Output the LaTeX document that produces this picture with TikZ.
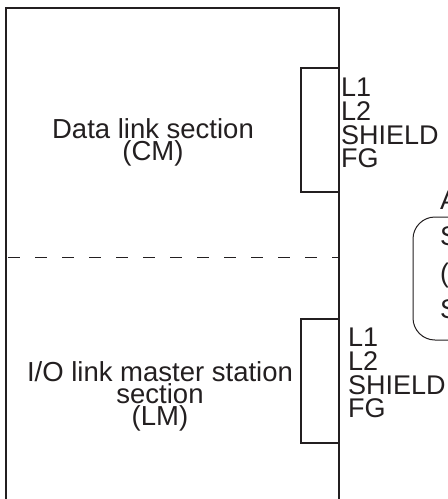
\documentclass[tikz,border=0pt]{standalone}
\usepackage{fontspec}
\setmainfont{Liberation Sans}
\definecolor{inkc}{HTML}{231F20}
\begin{document}
\begin{tikzpicture}[x=1pt,y=-1pt,
  frame/.style={draw=inkc, line width=1.8pt},
  conbox/.style={draw=inkc, line width=1.8pt, inner sep=0pt, minimum width=38pt, minimum height=124pt},
  lbl/.style={font=\fontsize{27}{23.7}\selectfont, text=inkc, inner sep=0pt, align=left},
  sect/.style={font=\fontsize{27.5}{22}\selectfont, text=inkc, inner sep=0pt, align=center},
  side/.style={font=\fontsize{27}{27}\selectfont, text=inkc, inner sep=0pt, anchor=base west}]
\useasboundingbox (0,0) rectangle (448,499);
\clip (0,0) rectangle (448,499);
% main frame
\coordinate (bl) at (6,515);
\coordinate (tl) at (6,8);
\coordinate (tr) at (339,8);
\coordinate (br) at (339,515);
\draw[frame] (bl) -- (tl) -- (tr) -- (br);
% dashed divider
\coordinate (dl) at (8,257);
\coordinate (dr) at (339,257);
\draw[draw=inkc, line width=0.8pt, dash pattern=on 12pt off 15pt] (dl) -- (dr);
% connector boxes
\node[conbox] (cn1) at (320,130) {};
\node[conbox] (cn2) at (320,381) {};
% section texts
\node[sect] (cm) at (153,142.5) {Data link section\\(CM)};
\node[sect] (lm) at (160,396) {I/O link master station\\section\\(LM)};
% terminal labels
\node[lbl, anchor=north west] (t1) at (341,78) {L1\\L2\\SHIELD\\FG};
\node[lbl, anchor=north west] (t2) at (348,328) {L1\\L2\\SHIELD\\FG};
% rounded box at right (cut off)
\coordinate (rt) at (480,217);
\coordinate (rb) at (480,340);
\draw[draw=inkc, line width=1pt, rounded corners=22pt] (rt) -- (413,217) -- (413,340) -- (rb);
\node[side] (sa) at (440,209) {A};
\node[side] (sb) at (440,245) {S};
\node[side] (sc) at (440,282) {(};
\node[side] (sd) at (440,318) {S};
\end{tikzpicture}
\end{document}
